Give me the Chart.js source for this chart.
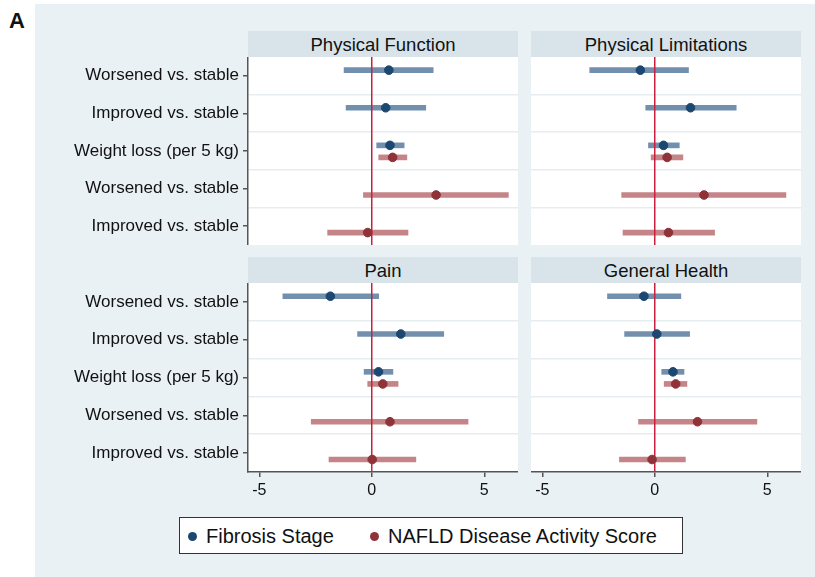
<!DOCTYPE html>
<html>
<head>
<meta charset="utf-8">
<script src="https://cdn.jsdelivr.net/npm/chart.js@4.4.1/dist/chart.umd.min.js"></script>
<style>
  html, body { margin: 0; padding: 0; background: #fff; }
  #wrap { position: relative; width: 815px; height: 577px; overflow: hidden;
          font-family: "Liberation Sans", Arial, Helvetica, sans-serif; color: #111; }
  #bg { position: absolute; left: 35px; top: 4px; width: 780px; height: 573px; background: #eaf1f4; }
  #tag { position: absolute; left: 9px; top: 8px; font-weight: bold; font-size: 22px; }
  .title { position: absolute; width: 270px; height: 26px; line-height: 27px; text-align: center;
           background: #d8e4ea; font-size: 18.5px; }
  .plot { position: absolute; }
  #legend { position: absolute; left: 179px; top: 517px; width: 502px; height: 35px;
            background: #fff; border: 1px solid #333; font-size: 20px; }
  .item { position: absolute; top: 0; height: 35px; line-height: 36px; white-space: nowrap; }
  .dot { display: inline-block; width: 9px; height: 9px; border-radius: 50%; margin-right: 9px;
         vertical-align: 2px; }
</style>
</head>
<body>
<div id="wrap">
  <div id="bg"></div>
  <div id="tag">A</div>
  <div id="legend"></div>
</div>
<script>
// rows of every panel, top to bottom
const rowLabels = ['Worsened vs. stable', 'Improved vs. stable', 'Weight loss (per 5 kg)',
                   'Worsened vs. stable', 'Improved vs. stable'];
const panelTitles = ['Physical Function', 'Physical Limitations', 'Pain', 'General Health'];
const seriesNames = ['Fibrosis Stage', 'NAFLD Disease Activity Score'];

// which row each series is shown on
const fibrosisRows = [1, 2, 3];
const nafldRows = [3, 4, 5];

// estimates and 95% CI, one array per panel
const fibrosisEst = [[0.76, 0.62, 0.81], [-0.64, 1.59, 0.39], [-1.84, 1.29, 0.30], [-0.48, 0.09, 0.81]];
const fibrosisLo  = [[-1.23, -1.14, 0.22], [-2.89, -0.40, -0.28], [-3.95, -0.63, -0.34], [-2.10, -1.34, 0.31]];
const fibrosisHi  = [[2.73, 2.40, 1.44], [1.50, 3.62, 1.09], [0.31, 3.20, 0.94], [1.16, 1.55, 1.30]];
const nafldEst = [[0.93, 2.86, -0.18], [0.55, 2.19, 0.61], [0.49, 0.81, 0.02], [0.93, 1.90, -0.12]];
const nafldLo  = [[0.31, -0.37, -1.96], [-0.16, -1.47, -1.41], [-0.18, -2.69, -1.90], [0.42, -0.72, -1.57]];
const nafldHi  = [[1.56, 6.07, 1.61], [1.25, 5.83, 2.66], [1.17, 4.28, 1.96], [1.43, 4.54, 1.36]];

const xTicks = [-5, 0, 5];
const refValue = 0;

// styles
const colors = {
  fibPoint: '#1b4771', fibCI: '#7290ae',
  nasPoint: '#8f3339', nasCI: '#c48488',
  zero: '#c8203e', sep: '#e6edf1', axis: '#555'
};
const rowOffset = { fib: -0.15, nas: 0.17 };

Chart.defaults.font.family = '"Liberation Sans", Arial, Helvetica, sans-serif';
Chart.defaults.color = '#111';

const wrap = document.getElementById('wrap');
const plotW = 270, yAxisW = 213, xAxisH = 35;
const boxes = [
  { left: 248, top: 57, h: 188, showY: true, showX: false },
  { left: 531, top: 57, h: 188, showY: false, showX: false },
  { left: 248, top: 283, h: 189, showY: true, showX: true },
  { left: 531, top: 283, h: 189, showY: false, showX: true }
];

// y ticks: row centres (labelled) and row borders (separators)
const nRows = rowLabels.length;
const yTickValues = [];
for (let i = 0; i < nRows; i++) yTickValues.push(i + 0.5, i + 1);
yTickValues.push(nRows + 0.5);

const plotBg = {
  id: 'plotBg',
  beforeDraw(chart) {
    const a = chart.chartArea, ctx = chart.ctx;
    ctx.save();
    ctx.fillStyle = '#fff';
    ctx.fillRect(a.left, a.top, a.right - a.left, a.bottom - a.top);
    ctx.restore();
  }
};

function noPad(s) {
  s.paddingTop = 0; s.paddingBottom = 0; s.paddingLeft = 0; s.paddingRight = 0;
}
function ci(rows, lo, hi, off) {
  return rows.map((r, i) => ({ y: r + off, x: [lo[i], hi[i]] }));
}
function pts(rows, est, off) {
  return rows.map((r, i) => ({ y: r + off, x: est[i] }));
}

panelTitles.forEach((title, p) => {
  const b = boxes[p];
  const t = document.createElement('div');
  t.className = 'title';
  t.style.left = b.left + 'px';
  t.style.top = (b.top - 26) + 'px';
  t.textContent = title;
  wrap.appendChild(t);

  const cv = document.createElement('canvas');
  const w = plotW + (b.showY ? yAxisW : 0);
  const h = b.h + (b.showX ? xAxisH : 0);
  cv.className = 'plot';
  cv.width = w; cv.height = h;
  cv.style.left = (b.left - (b.showY ? yAxisW : 0)) + 'px';
  cv.style.top = b.top + 'px';
  cv.style.width = w + 'px'; cv.style.height = h + 'px';
  wrap.appendChild(cv);

  const barOpts = { type: 'bar', grouped: false, barThickness: 5, borderWidth: 0, order: 2 };
  const ptOpts = { type: 'scatter', pointRadius: 4.3, borderWidth: 1, order: 0 };

  new Chart(cv, {
    type: 'bar',
    data: {
      datasets: [
        { ...barOpts, label: seriesNames[0] + ' CI', backgroundColor: colors.fibCI,
          data: ci(fibrosisRows, fibrosisLo[p], fibrosisHi[p], rowOffset.fib) },
        { ...barOpts, label: seriesNames[1] + ' CI', backgroundColor: colors.nasCI,
          data: ci(nafldRows, nafldLo[p], nafldHi[p], rowOffset.nas) },
        { type: 'scatter', showLine: true, pointRadius: 0, borderWidth: 1.5, borderColor: colors.zero,
          order: 1, data: [{ x: refValue, y: 0.5 }, { x: refValue, y: nRows + 0.5 }] },
        { ...ptOpts, label: seriesNames[0], backgroundColor: colors.fibPoint, borderColor: colors.fibPoint,
          data: pts(fibrosisRows, fibrosisEst[p], rowOffset.fib) },
        { ...ptOpts, label: seriesNames[1], backgroundColor: colors.nasPoint, borderColor: colors.nasPoint,
          data: pts(nafldRows, nafldEst[p], rowOffset.nas) }
      ]
    },
    options: {
      indexAxis: 'y',
      responsive: false,
      animation: false,
      layout: { padding: 0, autoPadding: false },
      plugins: { legend: { display: false }, tooltip: { enabled: false } },
      scales: {
        x: {
          type: 'linear', min: -5.5, max: 6.5, display: b.showX, offset: false,
          afterBuildTicks: s => { s.ticks = xTicks.map(v => ({ value: v })); },
          afterFit: s => { s.height = b.showX ? xAxisH : 0; noPad(s); },
          border: { color: colors.axis, width: 1.5 },
          grid: { offset: false, drawOnChartArea: false, tickLength: 5, tickColor: colors.axis, lineWidth: 1.5 },
          ticks: { font: { size: 16 }, padding: 4, maxRotation: 0 }
        },
        y: {
          type: 'linear', min: 0.5, max: nRows + 0.5, reverse: true, offset: false,
          afterBuildTicks: s => { s.ticks = yTickValues.map(v => ({ value: v })); },
          afterFit: s => { s.width = b.showY ? yAxisW : 0; noPad(s); },
          border: { display: b.showY, color: colors.axis, width: 1.5 },
          grid: {
            offset: false, drawTicks: b.showY, tickLength: 5, lineWidth: 1.5,
            color: c => (c.tick && !Number.isInteger(c.tick.value) &&
                          c.tick.value > 0.5 && c.tick.value < nRows + 0.5) ? colors.sep : 'transparent',
            tickColor: c => (c.tick && Number.isInteger(c.tick.value)) ? colors.axis : 'transparent'
          },
          ticks: {
            display: b.showY, autoSkip: false, padding: 4, font: { size: 17 },
            callback: v => Number.isInteger(v) ? rowLabels[v - 1] : ''
          }
        }
      }
    },
    plugins: [plotBg]
  });
});

// legend
const legend = document.getElementById('legend');
[[seriesNames[0], colors.fibPoint, 8], [seriesNames[1], colors.nasPoint, 190]].forEach(([name, col, x]) => {
  const it = document.createElement('div');
  it.className = 'item';
  it.style.left = x + 'px';
  it.innerHTML = '<span class="dot" style="background:' + col + '"></span>' + name;
  legend.appendChild(it);
});
</script>
</body>
</html>
